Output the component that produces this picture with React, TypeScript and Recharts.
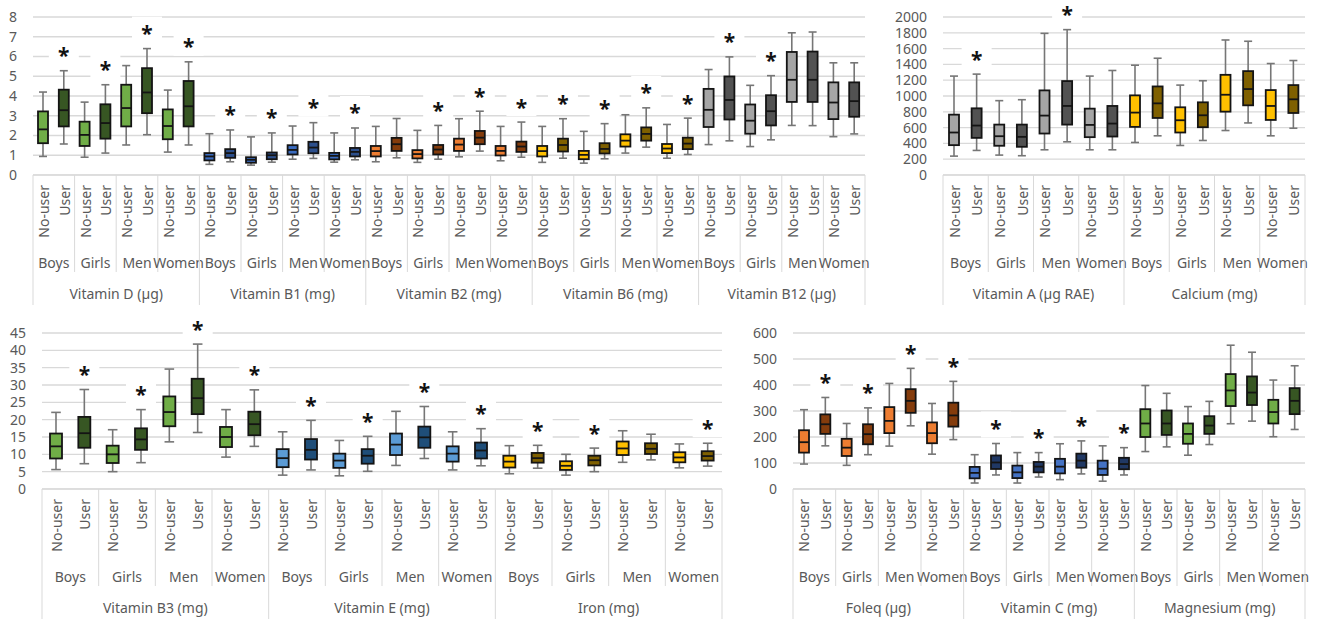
import React from "react";
import { ComposedChart, Bar, XAxis, YAxis, CartesianGrid } from "recharts";

// each box: [min, q1, median, q3, max]
type Box = [number, number, number, number, number];

const groups = ["Boys", "Girls", "Men", "Women"];
const users = ["No-user", "User"];

// top left panel
const vitaminD: Box[] = [
  [0.94, 1.61, 2.31, 3.22, 4.2], [1.57, 2.46, 3.28, 4.32, 5.28],
  [0.9, 1.47, 2.03, 2.7, 3.69], [1.11, 1.84, 2.63, 3.58, 4.57],
  [1.52, 2.46, 3.39, 4.57, 5.54], [2.04, 3.13, 4.18, 5.41, 6.4],
  [1.16, 1.81, 2.48, 3.32, 4.3], [1.52, 2.46, 3.48, 4.76, 5.73],
];
const vitaminB1: Box[] = [
  [0.54, 0.74, 0.94, 1.11, 2.09], [0.67, 0.87, 1.11, 1.31, 2.28],
  [0.5, 0.62, 0.77, 0.9, 1.93], [0.65, 0.8, 1.0, 1.14, 2.13],
  [0.8, 1.04, 1.27, 1.51, 2.48], [0.84, 1.1, 1.39, 1.68, 2.65],
  [0.65, 0.79, 0.97, 1.12, 2.13], [0.77, 0.94, 1.17, 1.37, 2.38],
];
const vitaminB2: Box[] = [
  [0.67, 0.94, 1.21, 1.47, 2.46], [0.87, 1.22, 1.56, 1.88, 2.86],
  [0.64, 0.84, 1.06, 1.26, 2.26], [0.8, 1.04, 1.29, 1.52, 2.51],
  [0.92, 1.22, 1.54, 1.84, 2.85], [1.21, 1.56, 1.89, 2.23, 3.23],
  [0.72, 0.99, 1.22, 1.47, 2.46], [0.9, 1.17, 1.44, 1.69, 2.68],
];
const vitaminB6: Box[] = [
  [0.64, 0.94, 1.21, 1.47, 2.46], [0.85, 1.19, 1.52, 1.84, 2.85],
  [0.6, 0.8, 1.02, 1.22, 2.21], [0.82, 1.09, 1.32, 1.61, 2.6],
  [1.11, 1.44, 1.74, 2.06, 3.05], [1.41, 1.74, 2.08, 2.41, 3.4],
  [0.85, 1.11, 1.34, 1.57, 2.56], [1.04, 1.31, 1.59, 1.89, 2.88],
];
const vitaminB12: Box[] = [
  [1.54, 2.43, 3.3, 4.36, 5.34], [1.73, 2.81, 3.8, 4.99, 5.98],
  [1.44, 2.09, 2.75, 3.57, 4.54], [1.78, 2.51, 3.23, 4.04, 5.03],
  [2.51, 3.7, 4.82, 6.23, 7.2], [2.5, 3.7, 4.82, 6.25, 7.24],
  [1.94, 2.83, 3.67, 4.69, 5.68], [2.08, 2.95, 3.74, 4.69, 5.68],
];

// top right panel
const vitaminA: Box[] = [
  [239, 378, 538, 764, 1252], [311, 470, 626, 844, 1277],
  [252, 370, 491, 638, 941], [244, 357, 483, 638, 953],
  [319, 525, 752, 1071, 1793], [420, 638, 874, 1189, 1840],
  [319, 479, 634, 840, 1252], [319, 487, 651, 874, 1323],
];
const calcium: Box[] = [
  [412, 609, 790, 1008, 1390], [496, 722, 907, 1121, 1478],
  [374, 538, 693, 857, 1138], [437, 605, 756, 920, 1193],
  [563, 802, 1016, 1268, 1709], [659, 882, 1088, 1315, 1693],
  [496, 697, 874, 1075, 1411], [592, 785, 958, 1138, 1449],
];

// bottom left panel
const vitaminB3: Box[] = [
  [5.6, 8.8, 12.3, 16.0, 22.1], [7.3, 11.9, 16.1, 20.8, 28.7],
  [5.0, 7.5, 10.0, 12.5, 17.1], [7.6, 11.3, 14.3, 17.5, 22.9],
  [13.6, 18.1, 22.2, 26.7, 34.6], [16.3, 21.6, 26.2, 31.8, 41.8],
  [9.2, 12.1, 15.0, 17.9, 22.9], [12.3, 15.5, 18.7, 22.3, 28.6],
];
const vitaminE: Box[] = [
  [4.0, 6.3, 8.9, 11.5, 16.5], [5.5, 8.5, 11.3, 14.4, 19.8],
  [3.8, 6.1, 8.2, 10.2, 14.0], [5.1, 7.3, 9.6, 11.5, 15.2],
  [6.8, 9.8, 12.8, 16.0, 22.4], [8.8, 11.9, 14.9, 18.0, 23.8],
  [5.5, 7.9, 10.2, 12.3, 16.5], [6.7, 8.8, 11.1, 13.4, 17.4],
];
const iron: Box[] = [
  [4.4, 6.2, 7.9, 9.6, 12.5], [6.0, 7.6, 8.9, 10.4, 12.6],
  [4.0, 5.5, 6.7, 8.0, 10.0], [5.0, 6.8, 8.3, 9.6, 11.8],
  [7.7, 9.8, 11.7, 13.7, 16.8], [8.4, 10.1, 11.6, 13.2, 15.8],
  [6.1, 7.7, 9.1, 10.6, 13.0], [6.6, 8.2, 9.5, 10.9, 13.2],
];

// bottom right panel
const foleq: Box[] = [
  [96, 140, 180, 226, 305], [166, 212, 249, 287, 352],
  [91, 127, 159, 193, 252], [132, 172, 211, 249, 312],
  [165, 215, 262, 315, 406], [243, 293, 339, 384, 464],
  [134, 176, 215, 256, 329], [190, 240, 283, 332, 414],
];
const vitaminC: Box[] = [
  [23, 41, 62, 85, 132], [54, 77, 102, 129, 175],
  [23, 42, 64, 90, 140], [46, 64, 86, 104, 140],
  [36, 60, 86, 116, 174], [58, 82, 109, 136, 185],
  [30, 54, 78, 109, 166], [54, 76, 96, 120, 159],
];
const magnesium: Box[] = [
  [144, 200, 252, 307, 398], [162, 208, 252, 302, 368],
  [130, 174, 212, 252, 317], [171, 212, 244, 280, 337],
  [251, 319, 379, 442, 553], [261, 323, 371, 433, 526],
  [201, 252, 296, 343, 419], [229, 288, 339, 388, 474],
];

// significance marks (*), one flag per box
const allUsers = [0, 1, 0, 1, 0, 1, 0, 1];
const b2Sig = [0, 0, 0, 1, 0, 1, 0, 1];
const b12Sig = [0, 1, 0, 1, 0, 0, 0, 0];
const vitASig = [0, 1, 0, 0, 0, 1, 0, 0];
const ironSig = [0, 1, 0, 1, 0, 0, 0, 1];
const noSig = [0, 0, 0, 0, 0, 0, 0, 0];

const yTicks1 = [0, 1, 2, 3, 4, 5, 6, 7, 8];
const yTicks2 = [0, 200, 400, 600, 800, 1000, 1200, 1400, 1600, 1800, 2000];
const yTicks3 = [0, 5, 10, 15, 20, 25, 30, 35, 40, 45];
const yTicks4 = [0, 100, 200, 300, 400, 500, 600];

const GREEN = ["#70ad47", "#375623"];
const BLUE1 = ["#3a6bbf", "#2c4f8c"];
const BLUE_E = ["#5b9bd5", "#1f4e79"];
const BLUE_C = ["#4472c4", "#203864"];
const ORANGE = ["#ed7d31", "#843c0c"];
const GOLD = ["#ffc000", "#7f6000"];
const GREY = ["#a5a5a5", "#525252"];

const FONT = "'Noto Sans', 'Open Sans', sans-serif";
const TXT = "#595959";

type Nutrient = { name: string; boxes: Box[]; sig: number[]; colors: string[] };

function buildRows(list: Nutrient[]) {
  return list.flatMap((n, ni) =>
    n.boxes.map((b, bi) => ({
      idx: ni * 8 + bi,
      range: [b[0], b[4]],
      q1: b[1],
      med: b[2],
      q3: b[3],
      sig: n.sig[bi] === 1,
      fill: n.colors[bi % 2],
    }))
  );
}

function BoxShape(props: any) {
  const { x, y, width, height, payload } = props;
  if (payload == null) return null;
  const [lo, hi] = payload.range;
  const toY = (v: number) => y + (height * (hi - v)) / (hi - lo);
  const cx = x + width / 2;
  const cap = width * 0.4;
  const yQ1 = toY(payload.q1);
  const yMed = toY(payload.med);
  const yQ3 = toY(payload.q3);
  const bottom = y + height;
  const sy = y - 19;
  return (
    <g>
      {payload.sig && (
        <g>
          <rect x={cx - 15} y={sy - 13} width={30} height={26} fill="#ffffff" />
          <text x={cx} y={sy + 11.5} textAnchor="middle" fontSize={21} fontWeight={700} fontFamily={FONT} fill="#111">
            *
          </text>
        </g>
      )}
      <line x1={cx} x2={cx} y1={y} y2={yQ3} stroke="#767676" strokeWidth={1.6} />
      <line x1={cx} x2={cx} y1={yQ1} y2={bottom} stroke="#767676" strokeWidth={1.6} />
      <line x1={cx - cap} x2={cx + cap} y1={y} y2={y} stroke="#767676" strokeWidth={1.6} />
      <line x1={cx - cap} x2={cx + cap} y1={bottom} y2={bottom} stroke="#767676" strokeWidth={1.6} />
      <rect x={x} y={yQ3} width={width} height={Math.max(yQ1 - yQ3, 1)} fill={payload.fill} stroke="#141414" strokeWidth={1.8} />
      <line x1={x} x2={x + width} y1={yMed} y2={yMed} stroke="#141414" strokeWidth={1.8} />
    </g>
  );
}

function CategoryTick(props: any) {
  const { x, y, payload, band, names, n } = props;
  const i = Number(payload.value);
  const left = x - band / 2;
  const sep = "#d9d9d9";
  return (
    <g fontFamily={FONT} fontSize={14} fill={TXT}>
      <text transform={`translate(${x},${y + 10}) rotate(-90)`} textAnchor="end" dominantBaseline="central" fill={TXT}>
        {users[i % 2]}
      </text>
      {i % 2 === 0 && (
        <>
          <line x1={left} x2={left} y1={y} y2={y + (i % 8 === 0 ? 130 : 97)} stroke={sep} />
          <text x={left + band} y={y + 87} textAnchor="middle" dominantBaseline="central" fill={TXT}>
            {groups[(i / 2) % 4]}
          </text>
        </>
      )}
      {i % 8 === 0 && (
        <text x={left + band * 4} y={y + 118} textAnchor="middle" dominantBaseline="central" fill={TXT}>
          {names[i / 8]}
        </text>
      )}
      {i === n - 1 && <line x1={x + band / 2} x2={x + band / 2} y1={y} y2={y + 130} stroke={sep} />}
    </g>
  );
}

function Panel({
  left, top, width, height, marginTop, yWidth, xAxisH, yMax, yTicks, list, boxW,
}: {
  left: number; top: number; width: number; height: number; marginTop: number; yWidth: number; xAxisH: number;
  yMax: number; yTicks: number[]; list: Nutrient[]; boxW: number;
}) {
  const rows = buildRows(list);
  const right = 5;
  const band = (width - yWidth - right) / rows.length;
  const names = list.map((n) => n.name);
  return (
    <div style={{ position: "absolute", left, top }}>
      <ComposedChart width={width} height={height} data={rows} margin={{ top: marginTop, right, left: 0, bottom: 0 }}>
        <CartesianGrid vertical={false} stroke="#d9d9d9" strokeWidth={1.3} />
        <XAxis
          dataKey="idx"
          type="category"
          interval={0}
          height={xAxisH}
          tickLine={false}
          tickSize={0}
          tickMargin={0}
          axisLine={{ stroke: "#d9d9d9" }}
          tick={(p: any) => <CategoryTick {...p} band={band} names={names} n={rows.length} />}
        />
        <YAxis
          type="number"
          domain={[0, yMax]}
          ticks={yTicks}
          interval={0}
          width={yWidth}
          axisLine={false}
          tickLine={false}
          tickSize={0}
          tickMargin={16}
          tick={{ fontSize: 14, fill: TXT, fontFamily: FONT }}
        />
        <Bar dataKey="range" barSize={boxW} isAnimationActive={false} shape={(p: any) => <BoxShape {...p} />} />
      </ComposedChart>
    </div>
  );
}

export default function App() {
  const topLeft: Nutrient[] = [
    { name: "Vitamin D (µg)", boxes: vitaminD, sig: allUsers, colors: GREEN },
    { name: "Vitamin B1 (mg)", boxes: vitaminB1, sig: allUsers, colors: BLUE1 },
    { name: "Vitamin B2 (mg)", boxes: vitaminB2, sig: b2Sig, colors: ORANGE },
    { name: "Vitamin B6 (mg)", boxes: vitaminB6, sig: allUsers, colors: GOLD },
    { name: "Vitamin B12 (µg)", boxes: vitaminB12, sig: b12Sig, colors: GREY },
  ];
  const topRight: Nutrient[] = [
    { name: "Vitamin A (µg RAE)", boxes: vitaminA, sig: vitASig, colors: GREY },
    { name: "Calcium (mg)", boxes: calcium, sig: noSig, colors: GOLD },
  ];
  const bottomLeft: Nutrient[] = [
    { name: "Vitamin B3 (mg)", boxes: vitaminB3, sig: allUsers, colors: GREEN },
    { name: "Vitamin E (mg)", boxes: vitaminE, sig: allUsers, colors: BLUE_E },
    { name: "Iron (mg)", boxes: iron, sig: ironSig, colors: GOLD },
  ];
  const bottomRight: Nutrient[] = [
    { name: "Foleq (µg)", boxes: foleq, sig: allUsers, colors: ORANGE },
    { name: "Vitamin C (mg)", boxes: vitaminC, sig: allUsers, colors: BLUE_C },
    { name: "Magnesium (mg)", boxes: magnesium, sig: noSig, colors: GREEN },
  ];
  return (
    <div style={{ position: "absolute", left: 0, top: 0, width: 1320, height: 619, background: "#fff", overflow: "hidden", fontFamily: FONT }}>
      <Panel left={0} top={0} width={870} height={310} marginTop={17} yWidth={33} xAxisH={135} yMax={8} yTicks={yTicks1} list={topLeft} boxW={10} />
      <Panel left={890} top={0} width={420} height={310} marginTop={17} yWidth={53} xAxisH={135} yMax={2000} yTicks={yTicks2} list={topRight} boxW={10} />
      <Panel left={0} top={304} width={727} height={315} marginTop={29} yWidth={42} xAxisH={130} yMax={45} yTicks={yTicks3} list={bottomLeft} boxW={12} />
      <Panel left={740} top={304} width={570} height={315} marginTop={29} yWidth={53} xAxisH={130} yMax={600} yTicks={yTicks4} list={bottomRight} boxW={10} />
    </div>
  );
}
